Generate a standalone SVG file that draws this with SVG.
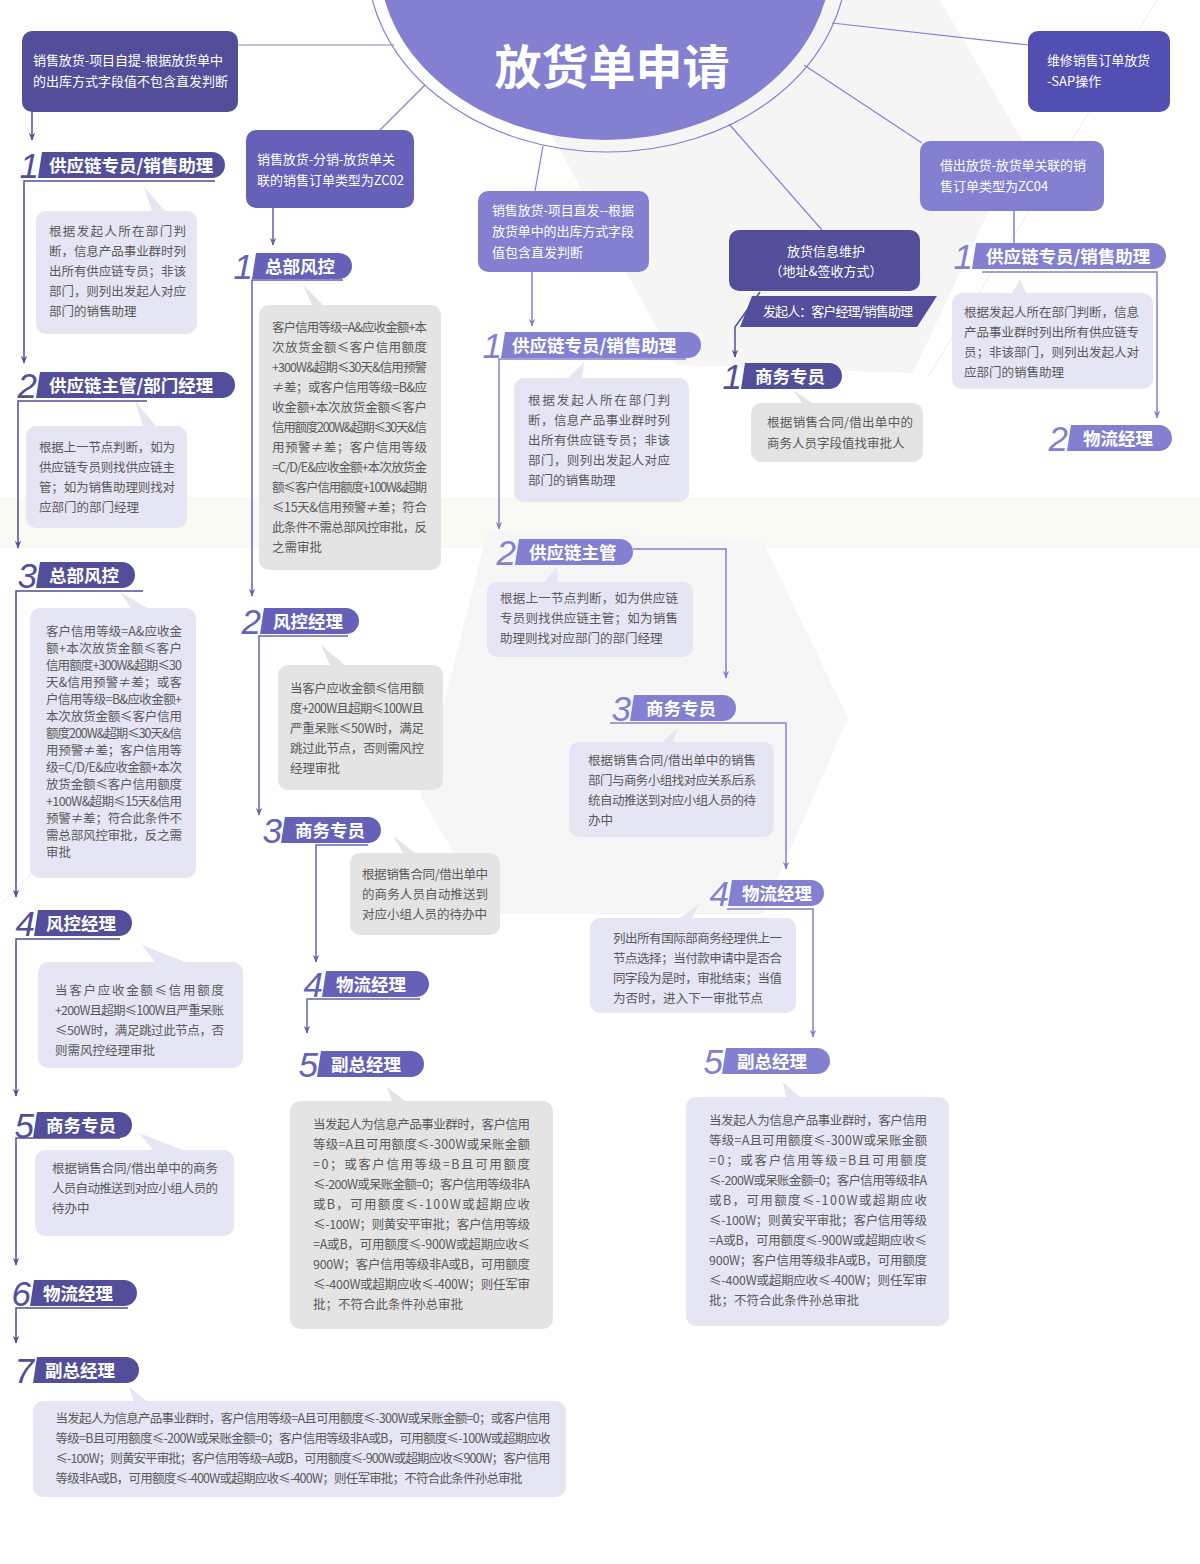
<svg xmlns="http://www.w3.org/2000/svg" width="1200" height="1564" viewBox="0 0 1200 1564">
  <defs>
    <style>
      text { font-family: 'Noto Sans CJK SC', 'Noto Sans', sans-serif; }
      .bt { font-size: 12.5px; fill: #5a5a5a; }
      .wt { font-size: 13px; fill: #ffffff; }
      .ht { font-size: 17.5px; font-weight: bold; fill: #ffffff; }
      .num { font-family: 'Liberation Sans', sans-serif; font-style: italic; font-size: 35px; text-anchor: end; }
      .dk .tab { fill: #524e99; } .dk .num { fill: #524e99; }
      .md .tab { fill: #6561b9; } .md .num { fill: #6561b9; }
      .lt .tab { fill: #8380d1; } .lt .num { fill: #8380d1; }
      .bl { fill: #e6e5f3; }
      .bg { fill: #e4e4e4; }
      .cd { fill: none; stroke: #524e99; stroke-width: 1.5; }
      .cm { fill: none; stroke: #6561b9; stroke-width: 1.5; }
      .cl { fill: none; stroke: #8380d1; stroke-width: 1.5; }
      .cc { fill: none; stroke: #8380d1; stroke-width: 1.2; }
    </style>
    <marker id="ad" viewBox="0 0 10 10" refX="9" refY="5" markerWidth="8" markerHeight="8" markerUnits="userSpaceOnUse" orient="auto">
      <path d="M0,1 L10,5 L0,9 L3,5 z" fill="#524e99"/>
    </marker>
    <marker id="am" viewBox="0 0 10 10" refX="9" refY="5" markerWidth="8" markerHeight="8" markerUnits="userSpaceOnUse" orient="auto">
      <path d="M0,1 L10,5 L0,9 L3,5 z" fill="#6561b9"/>
    </marker>
    <marker id="al" viewBox="0 0 10 10" refX="9" refY="5" markerWidth="8" markerHeight="8" markerUnits="userSpaceOnUse" orient="auto">
      <path d="M0,1 L10,5 L0,9 L3,5 z" fill="#8380d1"/>
    </marker>
  </defs>

  <!-- backdrop -->
  <g id="backdrop">
    <rect width="1200" height="1564" fill="#ffffff"/>
    <polygon points="470,0 940,0 1022,140 913,373 677,365 560,150" fill="#f5f5f5"/>
    <rect x="0" y="497" width="1200" height="51" fill="#fafaf5"/>
    <polygon points="488,530 762,540 848,718 762,914 490,914 420,795" fill="#f6f6f6"/>
    <line x1="1157" y1="0" x2="928" y2="377" stroke="#ececec" stroke-width="1"/>
    <line x1="190" y1="715" x2="0" y2="905" stroke="#ececec" stroke-width="1"/>
  </g>

  <!-- central title -->
  <g id="title">
    <ellipse cx="607" cy="-40" rx="240" ry="192" fill="none" stroke="#8380d1" stroke-width="1.2"/>
    <ellipse cx="605" cy="-40" rx="226" ry="180" fill="#8380d1"/>
    <text x="612" y="84" text-anchor="middle" font-size="47" font-weight="bold" fill="#ffffff">放货单申请</text>
  </g>

  <!-- connectors -->
  <g id="connectors">
    <!-- title to branch boxes -->
    <path class="cc" d="M238,45 H394"/>
    <path class="cc" d="M380,130 L425,85"/>
    <path class="cc" d="M535,191 L543,146"/>
    <path class="cc" d="M729,124 L822,230"/>
    <path class="cc" d="M804,65 L922,143"/>
    <path class="cc" d="M832,23 L1028,45"/>

    <!-- left column -->
    <path class="cd" d="M32,112 V140" marker-end="url(#ad)"/>
    <path class="cd" d="M215,181 H24 V363" marker-end="url(#ad)"/>
    <path class="cd" d="M147,401 H18 V548" marker-end="url(#ad)"/>
    <path class="cd" d="M143,591 H16 V897" marker-end="url(#ad)"/>
    <path class="cd" d="M120,939 H16 V1096" marker-end="url(#ad)"/>
    <path class="cd" d="M120,1138 H16 V1265" marker-end="url(#ad)"/>
    <path class="cd" d="M128,1308 H16 V1343" marker-end="url(#ad)"/>

    <!-- distribution column -->
    <path class="cm" d="M273,208 V245" marker-end="url(#am)"/>
    <path class="cm" d="M343,280 H252 V596" marker-end="url(#am)"/>
    <path class="cm" d="M348,636 H259 V815" marker-end="url(#am)"/>
    <path class="cm" d="M368,845 H316 V962" marker-end="url(#am)"/>
    <path class="cm" d="M420,999 H307 V1033" marker-end="url(#am)"/>

    <!-- direct shipping column -->
    <path class="cl" d="M532,272 V326" marker-end="url(#al)"/>
    <path class="cl" d="M686,359 H499 V529" marker-end="url(#al)"/>
    <path class="cl" d="M633,549 H726 V678" marker-end="url(#al)"/>
    <path class="cl" d="M610,723 H786 V869" marker-end="url(#al)"/>
    <path class="cl" d="M727,909 H813 V1037" marker-end="url(#al)"/>

    <!-- shipping info column -->
    <path class="cd" d="M760,292 L735,327 V357" marker-end="url(#ad)"/>

    <!-- loan column -->
    <path class="cl" d="M1014,211 V243"/>
    <path class="cl" d="M982,272 H1157 V418" marker-end="url(#al)"/>
  </g>

  <!-- branch boxes -->
  <g id="box-self-pickup">
    <rect x="22" y="31" width="216" height="81" rx="10" fill="#524e99"/>
    <text class="wt" x="33" y="65" textLength="190">销售放货-项目自提-根据放货单中</text>
    <text class="wt" x="33" y="86" textLength="195">的出库方式字段值不包含直发判断</text>
  </g>
  <g id="box-distribution">
    <rect x="246" y="130" width="168" height="78" rx="10" fill="#6561b9"/>
    <text class="wt" x="257" y="164" textLength="138">销售放货-分销-放货单关</text>
    <text class="wt" x="257" y="185" textLength="147">联的销售订单类型为ZC02</text>
  </g>
  <g id="box-direct">
    <rect x="478" y="191" width="171" height="81" rx="10" fill="#8380d1"/>
    <text class="wt" x="492" y="215" textLength="142">销售放货-项目直发--根据</text>
    <text class="wt" x="492" y="236" textLength="142">放货单中的出库方式字段</text>
    <text class="wt" x="492" y="257">值包含直发判断</text>
  </g>
  <g id="box-shipping-info">
    <rect x="729" y="230" width="191" height="61" rx="10" fill="#524e99"/>
    <text class="wt" x="826" y="256" text-anchor="middle">放货信息维护</text>
    <text class="wt" x="826" y="276" text-anchor="middle">（地址&amp;签收方式）</text>
    <polygon points="752,296 937,296 917,327 740,327" fill="#524e99"/>
    <text class="wt" x="763" y="316" textLength="150">发起人：客户经理/销售助理</text>
  </g>
  <g id="box-repair">
    <rect x="1028" y="31" width="142" height="81" rx="10" fill="#524fb2"/>
    <text class="wt" x="1047" y="65" textLength="103">维修销售订单放货</text>
    <text class="wt" x="1047" y="86">-SAP操作</text>
  </g>
  <g id="box-loan">
    <rect x="920" y="141" width="184" height="70" rx="10" fill="#8380d1"/>
    <text class="wt" x="940" y="170" textLength="146">借出放货-放货单关联的销</text>
    <text class="wt" x="940" y="191">售订单类型为ZC04</text>
  </g>

  <!-- left column: self pickup -->
  <g id="l1" class="dk">
    <path class="tab" d="M42,152 H212 A13,13 0 0 1 212,178 H38 Z"/>
    <text class="num" x="39" y="178">1</text>
    <text class="ht" x="49" y="171.5">供应链专员/销售助理</text>
    <polygon class="bl" points="144,187 152,211 165,211"/>
    <rect class="bl" x="36" y="211" width="161" height="123" rx="10"/>
    <text class="bt" x="49" y="235.5" textLength="137">根据发起人所在部门判</text>
    <text class="bt" x="49" y="255.5" textLength="137">断，信息产品事业群时列</text>
    <text class="bt" x="49" y="275.5" textLength="137">出所有供应链专员；非该</text>
    <text class="bt" x="49" y="295.5" textLength="137">部门，则列出发起人对应</text>
    <text class="bt" x="49" y="315.5">部门的销售助理</text>
  </g>
  <g id="l2" class="dk">
    <path class="tab" d="M40,372 H222 A13,13 0 0 1 222,398 H36 Z"/>
    <text class="num" x="37" y="398">2</text>
    <text class="ht" x="49" y="391.5">供应链主管/部门经理</text>
    <polygon class="bl" points="135,401 143,426 156,426"/>
    <rect class="bl" x="26" y="426" width="161" height="102" rx="10"/>
    <text class="bt" x="39" y="451.5" textLength="136">根据上一节点判断，如为</text>
    <text class="bt" x="39" y="471.5" textLength="136">供应链专员则找供应链主</text>
    <text class="bt" x="39" y="491.5" textLength="136">管；如为销售助理则找对</text>
    <text class="bt" x="39" y="511.5">应部门的部门经理</text>
  </g>
  <g id="l3" class="dk">
    <path class="tab" d="M40,562 H122 A13,13 0 0 1 122,588 H36 Z"/>
    <text class="num" x="37" y="588">3</text>
    <text class="ht" x="49" y="581.5">总部风控</text>
    <polygon class="bl" points="120,592 131,608 147,608"/>
    <rect class="bl" x="30" y="608" width="166" height="270" rx="10"/>
    <text class="bt" x="46" y="635.5" textLength="136">客户信用等级=A&amp;应收金</text>
    <text class="bt" x="46" y="652.5" textLength="136">额+本次放货金额≤客户</text>
    <text class="bt" x="46" y="669.5" textLength="136">信用额度+300W&amp;超期≤30</text>
    <text class="bt" x="46" y="686.5" textLength="136">天&amp;信用预警≠差；或客</text>
    <text class="bt" x="46" y="703.5" textLength="136">户信用等级=B&amp;应收金额+</text>
    <text class="bt" x="46" y="720.5" textLength="136">本次放货金额≤客户信用</text>
    <text class="bt" x="46" y="737.5" textLength="136">额度200W&amp;超期≤30天&amp;信</text>
    <text class="bt" x="46" y="754.5" textLength="136">用预警≠差；客户信用等</text>
    <text class="bt" x="46" y="771.5" textLength="136">级=C/D/E&amp;应收金额+本次</text>
    <text class="bt" x="46" y="788.5" textLength="136">放货金额≤客户信用额度</text>
    <text class="bt" x="46" y="805.5" textLength="136">+100W&amp;超期≤15天&amp;信用</text>
    <text class="bt" x="46" y="822.5" textLength="136">预警≠差；符合此条件不</text>
    <text class="bt" x="46" y="839.5" textLength="136">需总部风控审批，反之需</text>
    <text class="bt" x="46" y="856.5">审批</text>
  </g>
  <g id="l4" class="dk">
    <path class="tab" d="M38,910 H119 A13,13 0 0 1 119,936 H34 Z"/>
    <text class="num" x="35" y="936">4</text>
    <text class="ht" x="46" y="929.5">风控经理</text>
    <polygon class="bl" points="142,945 155,962 185,962"/>
    <rect class="bl" x="38" y="962" width="205" height="106" rx="10"/>
    <text class="bt" x="55" y="994.5" textLength="169">当客户应收金额≤信用额度</text>
    <text class="bt" x="55" y="1014.5" textLength="169">+200W且超期≤100W且严重呆账</text>
    <text class="bt" x="55" y="1034.5" textLength="169">≤50W时，满足跳过此节点，否</text>
    <text class="bt" x="55" y="1054.5">则需风控经理审批</text>
  </g>
  <g id="l5" class="dk">
    <path class="tab" d="M37,1112 H119 A13,13 0 0 1 119,1138 H33 Z"/>
    <text class="num" x="34" y="1138">5</text>
    <text class="ht" x="46" y="1131.5">商务专员</text>
    <polygon class="bl" points="139,1133 153,1150 183,1150"/>
    <rect class="bl" x="35" y="1150" width="199" height="86" rx="10"/>
    <text class="bt" x="52" y="1172.5" textLength="166">根据销售合同/借出单中的商务</text>
    <text class="bt" x="52" y="1192.5" textLength="166">人员自动推送到对应小组人员的</text>
    <text class="bt" x="52" y="1212.5">待办中</text>
  </g>
  <g id="l6" class="dk">
    <path class="tab" d="M34,1280 H124 A13,13 0 0 1 124,1306 H30 Z"/>
    <text class="num" x="31" y="1306">6</text>
    <text class="ht" x="43" y="1299.5">物流经理</text>
  </g>
  <g id="l7" class="dk">
    <path class="tab" d="M37,1357 H126 A13,13 0 0 1 126,1383 H33 Z"/>
    <text class="num" x="34" y="1383">7</text>
    <text class="ht" x="45" y="1376.5">副总经理</text>
    <polygon class="bl" points="129,1387 134,1401 147,1401"/>
    <rect class="bl" x="33" y="1401" width="533" height="96" rx="10"/>
    <text class="bt" x="55.5" y="1422.5" textLength="495">当发起人为信息产品事业群时，客户信用等级=A且可用额度≤-300W或呆账金额=0；或客户信用</text>
    <text class="bt" x="55.5" y="1442.5" textLength="495">等级=B且可用额度≤-200W或呆账金额=0；客户信用等级非A或B，可用额度≤-100W或超期应收</text>
    <text class="bt" x="55.5" y="1462.5" textLength="495">≤-100W；则黄安平审批；客户信用等级=A或B，可用额度≤-900W或超期应收≤900W；客户信用</text>
    <text class="bt" x="55.5" y="1482.5" textLength="467">等级非A或B，可用额度≤-400W或超期应收≤-400W；则任军审批；不符合此条件孙总审批</text>
  </g>

  <!-- distribution column -->
  <g id="m1" class="md">
    <path class="tab" d="M256,253 H339 A13,13 0 0 1 339,279 H252 Z"/>
    <text class="num" x="253" y="279">1</text>
    <text class="ht" x="265" y="272.5">总部风控</text>
    <polygon class="bg" points="303,285 312,305 323,305"/>
    <rect class="bg" x="259" y="305" width="182" height="265" rx="10"/>
    <text class="bt" x="272" y="332" textLength="155">客户信用等级=A&amp;应收金额+本</text>
    <text class="bt" x="272" y="352" textLength="155">次放货金额≤客户信用额度</text>
    <text class="bt" x="272" y="372" textLength="155">+300W&amp;超期≤30天&amp;信用预警</text>
    <text class="bt" x="272" y="392" textLength="155">≠差；或客户信用等级=B&amp;应</text>
    <text class="bt" x="272" y="412" textLength="155">收金额+本次放货金额≤客户</text>
    <text class="bt" x="272" y="432" textLength="155">信用额度200W&amp;超期≤30天&amp;信</text>
    <text class="bt" x="272" y="452" textLength="155">用预警≠差；客户信用等级</text>
    <text class="bt" x="272" y="472" textLength="155">=C/D/E&amp;应收金额+本次放货金</text>
    <text class="bt" x="272" y="492" textLength="155">额≤客户信用额度+100W&amp;超期</text>
    <text class="bt" x="272" y="512" textLength="155">≤15天&amp;信用预警≠差；符合</text>
    <text class="bt" x="272" y="532" textLength="155">此条件不需总部风控审批，反</text>
    <text class="bt" x="272" y="552">之需审批</text>
  </g>
  <g id="m2" class="md">
    <path class="tab" d="M264,608 H346 A13,13 0 0 1 346,634 H260 Z"/>
    <text class="num" x="261" y="634">2</text>
    <text class="ht" x="273" y="627.5">风控经理</text>
    <polygon class="bg" points="321,645 330,665 345,665"/>
    <rect class="bg" x="278" y="665" width="165" height="125" rx="10"/>
    <text class="bt" x="290" y="692.5" textLength="134">当客户应收金额≤信用额</text>
    <text class="bt" x="290" y="712.5" textLength="134">度+200W且超期≤100W且</text>
    <text class="bt" x="290" y="732.5" textLength="134">严重呆账≤50W时，满足</text>
    <text class="bt" x="290" y="752.5" textLength="134">跳过此节点，否则需风控</text>
    <text class="bt" x="290" y="772.5">经理审批</text>
  </g>
  <g id="m3" class="md">
    <path class="tab" d="M285,817 H368 A13,13 0 0 1 368,843 H281 Z"/>
    <text class="num" x="282" y="843">3</text>
    <text class="ht" x="295" y="836.5">商务专员</text>
    <polygon class="bg" points="393,836 403,853 415,853"/>
    <rect class="bg" x="350" y="853" width="150" height="82" rx="10"/>
    <text class="bt" x="362" y="878.5" textLength="126">根据销售合同/借出单中</text>
    <text class="bt" x="362" y="898.5" textLength="126">的商务人员自动推送到</text>
    <text class="bt" x="362" y="918.5">对应小组人员的待办中</text>
  </g>
  <g id="m4" class="md">
    <path class="tab" d="M326,971 H416 A13,13 0 0 1 416,997 H322 Z"/>
    <text class="num" x="323" y="997">4</text>
    <text class="ht" x="336" y="990.5">物流经理</text>
  </g>
  <g id="m5" class="md">
    <path class="tab" d="M321,1051 H411 A13,13 0 0 1 411,1077 H317 Z"/>
    <text class="num" x="318" y="1077">5</text>
    <text class="ht" x="331" y="1070.5">副总经理</text>
    <polygon class="bg" points="387,1087 392,1101 405,1101"/>
    <rect class="bg" x="290" y="1101" width="263" height="228" rx="10"/>
    <text class="bt" x="313" y="1128.5" textLength="217">当发起人为信息产品事业群时，客户信用</text>
    <text class="bt" x="313" y="1148.5" textLength="217">等级=A且可用额度≤-300W或呆账金额</text>
    <text class="bt" x="313" y="1168.5" textLength="217">=0；或客户信用等级=B且可用额度</text>
    <text class="bt" x="313" y="1188.5" textLength="217">≤-200W或呆账金额=0；客户信用等级非A</text>
    <text class="bt" x="313" y="1208.5" textLength="217">或B，可用额度≤-100W或超期应收</text>
    <text class="bt" x="313" y="1228.5" textLength="217">≤-100W；则黄安平审批；客户信用等级</text>
    <text class="bt" x="313" y="1248.5" textLength="217">=A或B，可用额度≤-900W或超期应收≤</text>
    <text class="bt" x="313" y="1268.5" textLength="217">900W；客户信用等级非A或B，可用额度</text>
    <text class="bt" x="313" y="1288.5" textLength="217">≤-400W或超期应收≤-400W；则任军审</text>
    <text class="bt" x="313" y="1308.5">批；不符合此条件孙总审批</text>
  </g>

  <!-- direct shipping column -->
  <g id="r1" class="lt">
    <path class="tab" d="M505,332 H688 A13,13 0 0 1 688,358 H501 Z"/>
    <text class="num" x="502" y="358">1</text>
    <text class="ht" x="512" y="351.5">供应链专员/销售助理</text>
    <polygon class="bl" points="584,362 568,378 582,378"/>
    <rect class="bl" x="514" y="378" width="175" height="124" rx="10"/>
    <text class="bt" x="528" y="404.5" textLength="142">根据发起人所在部门判</text>
    <text class="bt" x="528" y="424.5" textLength="142">断，信息产品事业群时列</text>
    <text class="bt" x="528" y="444.5" textLength="142">出所有供应链专员；非该</text>
    <text class="bt" x="528" y="464.5" textLength="142">部门，则列出发起人对应</text>
    <text class="bt" x="528" y="484.5">部门的销售助理</text>
  </g>
  <g id="r2" class="lt">
    <path class="tab" d="M519,539 H620 A13,13 0 0 1 620,565 H515 Z"/>
    <text class="num" x="516" y="565">2</text>
    <text class="ht" x="529" y="558.5">供应链主管</text>
    <polygon class="bl" points="557,566 545,582 558,582"/>
    <rect class="bl" x="487" y="582" width="206" height="75" rx="10"/>
    <text class="bt" x="500" y="602.5" textLength="178">根据上一节点判断，如为供应链</text>
    <text class="bt" x="500" y="622.5" textLength="178">专员则找供应链主管；如为销售</text>
    <text class="bt" x="500" y="642.5">助理则找对应部门的部门经理</text>
  </g>
  <g id="r3" class="lt">
    <path class="tab" d="M634,695 H723 A13,13 0 0 1 723,721 H630 Z"/>
    <text class="num" x="631" y="721">3</text>
    <text class="ht" x="646" y="714.5">商务专员</text>
    <polygon class="bl" points="678,728 662,742 673,742"/>
    <rect class="bl" x="569" y="742" width="205" height="95" rx="10"/>
    <text class="bt" x="588" y="764.5" textLength="168">根据销售合同/借出单中的销售</text>
    <text class="bt" x="588" y="784.5" textLength="168">部门与商务小组找对应关系后系</text>
    <text class="bt" x="588" y="804.5" textLength="168">统自动推送到对应小组人员的待</text>
    <text class="bt" x="588" y="824.5">办中</text>
  </g>
  <g id="r4" class="lt">
    <path class="tab" d="M732,880 H811 A13,13 0 0 1 811,906 H728 Z"/>
    <text class="num" x="729" y="906">4</text>
    <text class="ht" x="742" y="899.5">物流经理</text>
    <polygon class="bl" points="699,904 680,918 692,918"/>
    <rect class="bl" x="590" y="918" width="206" height="95" rx="10"/>
    <text class="bt" x="613" y="942.5" textLength="169">列出所有国际部商务经理供上一</text>
    <text class="bt" x="613" y="962.5" textLength="169">节点选择；当付款申请中是否合</text>
    <text class="bt" x="613" y="982.5" textLength="169">同字段为是时，审批结束；当值</text>
    <text class="bt" x="613" y="1002.5">为否时，进入下一审批节点</text>
  </g>
  <g id="r5" class="lt">
    <path class="tab" d="M726,1048 H817 A13,13 0 0 1 817,1074 H722 Z"/>
    <text class="num" x="723" y="1074">5</text>
    <text class="ht" x="737" y="1067.5">副总经理</text>
    <polygon class="bl" points="783,1082 786,1097 800,1097"/>
    <rect class="bl" x="686" y="1097" width="263" height="229" rx="10"/>
    <text class="bt" x="709" y="1124.5" textLength="218">当发起人为信息产品事业群时，客户信用</text>
    <text class="bt" x="709" y="1144.5" textLength="218">等级=A且可用额度≤-300W或呆账金额</text>
    <text class="bt" x="709" y="1164.5" textLength="218">=0；或客户信用等级=B且可用额度</text>
    <text class="bt" x="709" y="1184.5" textLength="218">≤-200W或呆账金额=0；客户信用等级非A</text>
    <text class="bt" x="709" y="1204.5" textLength="218">或B，可用额度≤-100W或超期应收</text>
    <text class="bt" x="709" y="1224.5" textLength="218">≤-100W；则黄安平审批；客户信用等级</text>
    <text class="bt" x="709" y="1244.5" textLength="218">=A或B，可用额度≤-900W或超期应收≤</text>
    <text class="bt" x="709" y="1264.5" textLength="218">900W；客户信用等级非A或B，可用额度</text>
    <text class="bt" x="709" y="1284.5" textLength="218">≤-400W或超期应收≤-400W；则任军审</text>
    <text class="bt" x="709" y="1304.5">批；不符合此条件孙总审批</text>
  </g>

  <!-- shipping info column -->
  <g id="s1" class="dk">
    <path class="tab" d="M745,363 H829 A13,13 0 0 1 829,389 H741 Z"/>
    <text class="num" x="742" y="389">1</text>
    <text class="ht" x="755" y="382.5">商务专员</text>
    <polygon class="bg" points="793,390 802,403 812,403"/>
    <rect class="bg" x="751" y="403" width="172" height="59" rx="10"/>
    <text class="bt" x="767" y="426.5" textLength="146">根据销售合同/借出单中的</text>
    <text class="bt" x="767" y="447.5">商务人员字段值找审批人</text>
  </g>

  <!-- loan column -->
  <g id="f1" class="lt">
    <path class="tab" d="M976,243 H1153 A13,13 0 0 1 1153,269 H972 Z"/>
    <text class="num" x="973" y="269">1</text>
    <text class="ht" x="986" y="262.5">供应链专员/销售助理</text>
    <polygon class="bl" points="1020,279 1012,293 1026,293"/>
    <rect class="bl" x="952" y="293" width="201" height="96" rx="10"/>
    <text class="bt" x="964" y="316.5" textLength="175">根据发起人所在部门判断，信息</text>
    <text class="bt" x="964" y="336.5" textLength="175">产品事业群时列出所有供应链专</text>
    <text class="bt" x="964" y="356.5" textLength="175">员；非该部门，则列出发起人对</text>
    <text class="bt" x="964" y="376.5">应部门的销售助理</text>
  </g>
  <g id="f2" class="lt">
    <path class="tab" d="M1071,425 H1159 A13,13 0 0 1 1159,451 H1067 Z"/>
    <text class="num" x="1068" y="451">2</text>
    <text class="ht" x="1083" y="444.5">物流经理</text>
  </g>
</svg>
